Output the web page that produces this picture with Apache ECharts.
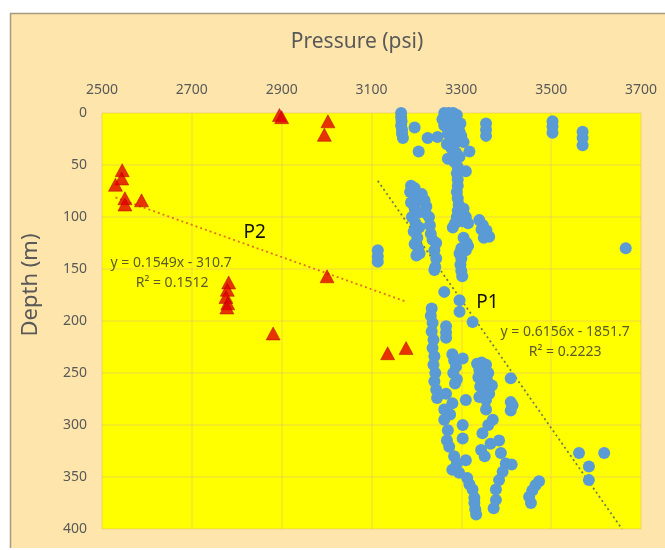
<!DOCTYPE html>
<html><head><meta charset="utf-8">
<script src="https://cdn.jsdelivr.net/npm/echarts@6/dist/echarts.min.js"></script>
<style>html,body{margin:0;padding:0;background:#fff}#c{width:665px;height:550px}</style>
</head><body><div id="c"></div><script>
// Axis ranges
const xRange = [2500, 3700, 200];
const yRange = [0, 400, 50];

// P1 (blue circles): pressure (psi) and depth (m)
const p1Pressure = [
3166,3166,3167,3166,3168,3168,3170,
3196,3225,3247,3205,
3262,3272,3282,3290,3258,3268,3278,3288,3298,3262,3275,3286,3296,3300,3270,3280,3290,3268,3278,3288,3296,3270,3284,3318,3310,3305,
3355,3355,3355,3503,3503,3503,3570,3570,3570,
3292,3290,3292,3292,3290,3292,3294,3292,3290,3286,3281,3305,3310,3315,3306,3302,
3340,3348,3356,3362,3350,3345,
3188,3196,3186,3196,3204,3188,3196,3204,3190,3198,3206,3194,3202,3196,3204,3200,
3212,3218,3222,3220,3228,3230,3232,3236,3244,3240,3244,3242,3240,3207,
3305,3312,3300,3296,3300,3298,3300,3302,3315,3310,
3114,3114,3114,3666,
3262,3296,3296,3325,
3234,3232,3236,3234,3238,3236,3240,3238,3242,3240,3244,3246,
3266,3266,3266,3280,3284,3288,3282,3290,3286,3303,
3335,3345,3355,3340,3350,3360,3338,3348,3358,3368,3342,3352,3362,3345,3355,
3410,3410,3410,
3266,3280,3310,3262,3275,3262,3303,3270,3303,3268,3273,3284,3310,3290,3280,3295,3313,3318,3325,3329,3329,3331,3333,
3340,3355,3370,3360,3347,3384,3365,3344,3388,3352,3414,3399,3392,3384,3377,3377,3372,3412,
3451,3455,3458,3473,3465,
3562,3618,3584,3584
];
const p1Depth = [
0,4,8,12,16,20,24,
14,24,23,37,
0,0,0,2,6,5,8,7,10,12,15,14,18,22,20,24,28,30,34,38,42,44,47,37,56,28,
10,16,22,8,13,19,18,24,31,
52,58,64,70,76,82,88,94,100,106,110,92,100,106,98,104,
103,108,113,119,120,112,
70,72,76,80,84,86,92,96,100,106,110,114,120,126,130,137,
78,84,90,96,100,108,116,122,125,132,140,148,151,135,
120,125,130,135,140,146,152,157,128,132,
132,138,143,130,
172,180,191,201,
188,195,202,210,218,226,234,242,250,258,266,274,
205,211,216,232,238,244,250,256,260,236,
241,240,242,247,248,250,254,256,258,262,263,266,270,272,276,
255,278,286,
270,279,276,285,290,295,300,305,313,315,321,330,334,337,343,346,351,357,362,370,375,381,386,
273,285,295,300,308,315,318,324,327,330,281,337,345,353,362,372,380,338,
369,375,363,354,358,
327,327,340,353
];

// P2 (red triangles)
const p2Pressure = [2895,2900,3003,2995,2545,2544,2530,2551,2551,2588,3001,2782,2779,2776,2780,2778,2881,3136,3177];
const p2Depth    = [2,4,8,21,55,63,69,82,88,84,157,163,170,177,183,187,212,231,226];

// Linear trendlines shown on the chart: [slope, intercept]
const p1Trend = [0.6156, -1851.7];
const p2Trend = [0.1549, -310.7];
const p1Label = ['y = 0.6156x - 1851.7', 'R\u00b2 = 0.2223'];
const p2Label = ['y = 0.1549x - 310.7', 'R\u00b2 = 0.1512'];

function pairs(xs, ys){ return xs.map((x,i)=>[x, ys[i]]); }
function trendPts(xs, t){
  const lo = Math.min(...xs), hi = Math.max(...xs);
  const f = x => t[0]*x + t[1];
  let x2 = hi, y2 = f(hi);
  if (y2 > yRange[1]) { y2 = yRange[1]; x2 = (y2 - t[1]) / t[0]; }
  return [[lo, f(lo)], [x2, y2]];
}

const FONT = 'Noto Sans';
const chart = echarts.init(document.getElementById('c'));
const option = {
  backgroundColor: '#FEE5AC',
  animation: false,
  grid: { left: 102, right: 24, top: 113, bottom: 21, show: true, backgroundColor: '#FFFF00', borderWidth: 0 },
  xAxis: {
    type: 'value', position: 'top', min: xRange[0], max: xRange[1], interval: xRange[2],
    axisLine: { show: false }, axisTick: { show: false },
    axisLabel: { margin: 16, fontFamily: FONT, fontSize: 14, color: '#595959', formatter: v => String(v) },
    splitLine: { lineStyle: { color: 'rgba(225,190,110,0.4)', width: 1.5 } }
  },
  yAxis: {
    type: 'value', inverse: true, min: yRange[0], max: yRange[1], interval: yRange[2],
    axisLine: { show: false }, axisTick: { show: false },
    axisLabel: { margin: 15, fontFamily: FONT, fontSize: 14, color: '#595959', formatter: v => String(v) },
    splitLine: { lineStyle: { color: 'rgba(225,190,110,0.4)', width: 1.5 } }
  },
  series: [
    { type: 'line', data: trendPts(p2Pressure, p2Trend), symbol: 'none', z: 1,
      lineStyle: { color: '#E0702A', width: 1.8, type: [2, 3] } },
    { type: 'line', data: trendPts(p1Pressure, p1Trend), symbol: 'none', z: 1,
      lineStyle: { color: '#6F7F55', width: 1.8, type: [2, 3] } },
    { type: 'scatter', name: 'P1', data: pairs(p1Pressure, p1Depth), symbol: 'circle', symbolSize: 12,
      itemStyle: { color: '#5B9BD5', opacity: 1 }, z: 3 },
    { type: 'scatter', name: 'P2', data: pairs(p2Pressure, p2Depth), symbol: 'triangle', symbolSize: [14, 13],
      itemStyle: { color: '#E00000', borderColor: '#B00000', borderWidth: 0.6 }, z: 4 }
  ],
  graphic: [
    { type: 'rect', shape: { x: 0, y: 0, width: 665, height: 13 }, style: { fill: '#fff' }, silent: true },
    { type: 'rect', shape: { x: 0, y: 0, width: 10, height: 550 }, style: { fill: '#fff' }, silent: true },
    { type: 'rect', shape: { x: 0, y: 548, width: 665, height: 2 }, style: { fill: '#fff' }, silent: true },
    { type: 'polyline', shape: { points: [[10.5, 548], [10.5, 13.5], [665, 13.5]] }, style: { stroke: '#A89A80', lineWidth: 1.5, fill: null }, silent: true },
    { type: 'text', x: 357, y: 42, style: { text: 'Pressure (psi)', font: '21px "Noto Sans"', fill: '#595959', align: 'center', verticalAlign: 'middle' } },
    { type: 'text', x: 31, y: 285, rotation: Math.PI / 2, style: { text: 'Depth (m)', font: '22px "Noto Sans"', fill: '#595959', align: 'center', verticalAlign: 'middle' } }
  ]
};
chart.setOption(option);

// annotations placed in data coordinates
const notes = [
  { t: 'P2', at: [2840, 115], font: '19px "Noto Sans"', fill: '#111' },
  { t: 'P1', at: [3358, 182], font: '19px "Noto Sans"', fill: '#111' },
  { t: p2Label[0], at: [2654, 144], font: '14px "Noto Sans"', fill: '#5A5A2A' },
  { t: p2Label[1], at: [2656, 163], font: '14px "Noto Sans"', fill: '#5A5A2A' },
  { t: p1Label[0], at: [3531, 210.5], font: '14px "Noto Sans"', fill: '#5A5A2A' },
  { t: p1Label[1], at: [3531, 230], font: '14px "Noto Sans"', fill: '#5A5A2A' }
];
const extra = notes.map(n => {
  const p = chart.convertToPixel({ gridIndex: 0 }, n.at);
  return { type: 'text', x: p[0], y: p[1], z: 10, style: { text: n.t, font: n.font, fill: n.fill, align: 'center', verticalAlign: 'middle' } };
});
chart.setOption({ graphic: option.graphic.concat(extra) });
</script></body></html>
